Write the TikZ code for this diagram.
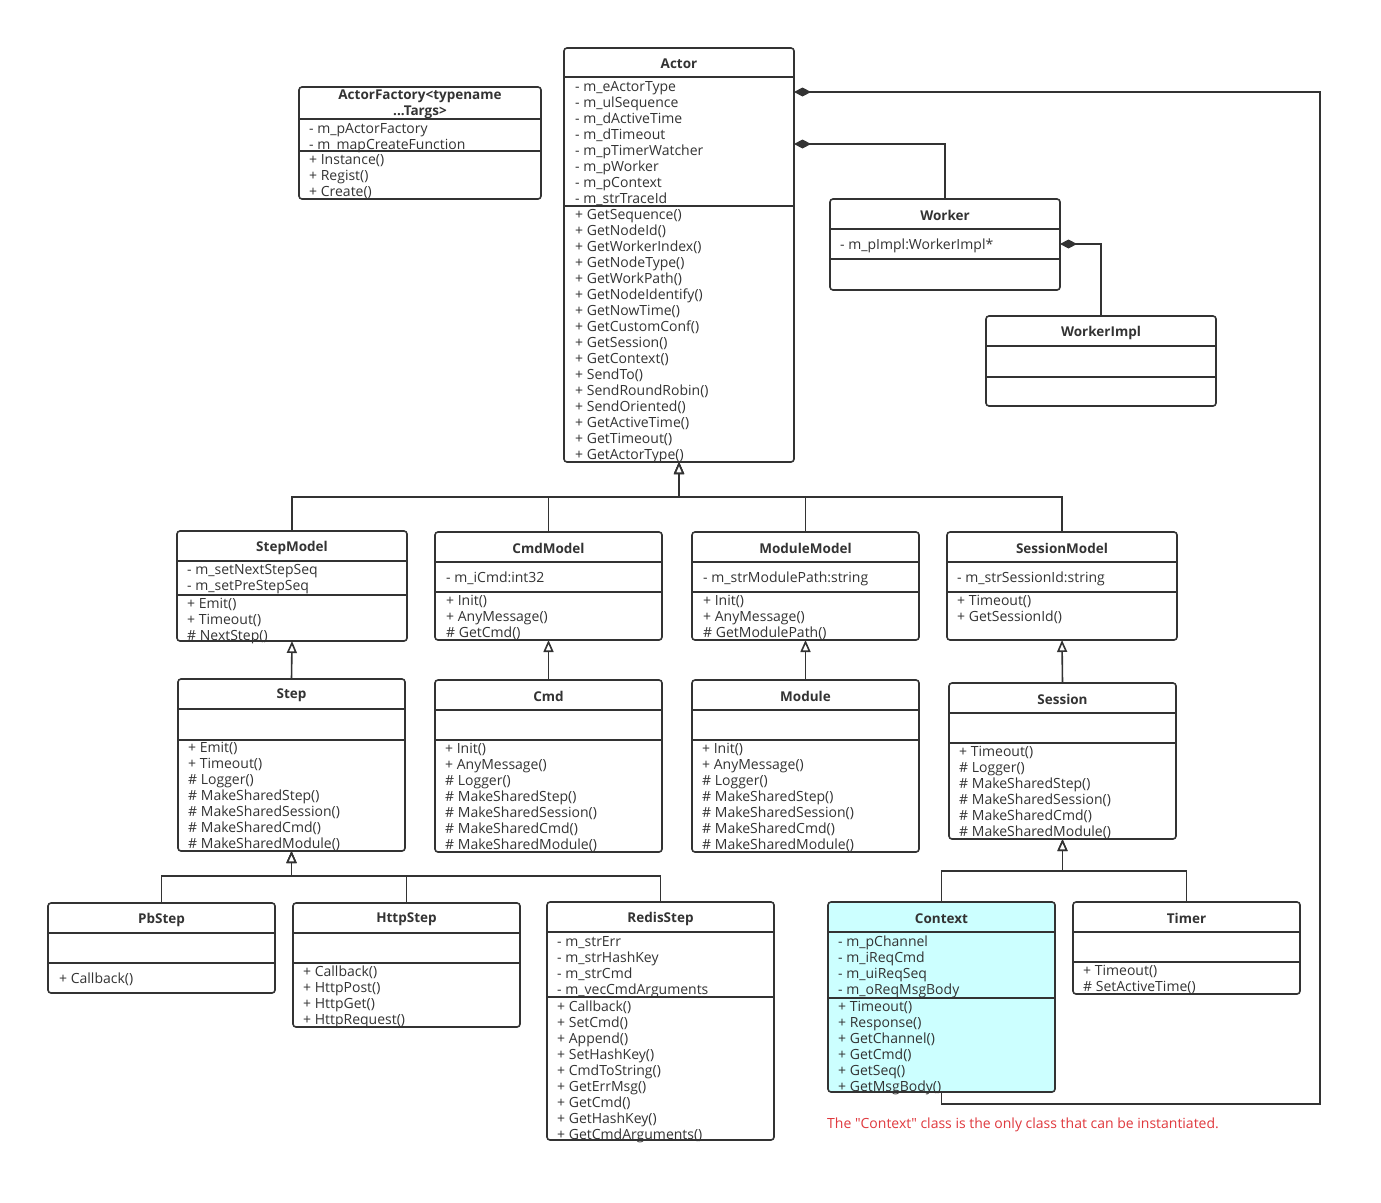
\documentclass[tikz,border=0pt]{standalone}
\usepackage{fontspec}
\setmainfont{Open Sans}
\usetikzlibrary{arrows.meta}

\definecolor{umlline}{HTML}{333333}
\definecolor{umltext}{HTML}{333333}
\definecolor{ctxfill}{HTML}{CCFFFF}
\definecolor{notered}{HTML}{E0393E}

% A class box: [fill]{name}{left}{top}{right}{bottom}{divider 1}{divider 2}{title}
\newcommand{\umlclass}[9][white]{%
  \node[classframe, fill=#1, anchor=north west,
        minimum width={(#5-#3)*1pt}, minimum height={(#6-#4)*1pt}]
    (#2) at (#3,#4) {};
  \node[classtitle] (#2-title) at ({(#3+#5)/2},{(#4+#7)/2}) {#9};
  \draw[divider] (#3,#7) -- (#5,#7) (#3,#8) -- (#5,#8);
}

% One line per member, 16px apart: {prefix}{x}{y of the first line}{lines}
\newcommand{\members}[4]{%
  \foreach \txt [count=\i] in {#4}
    \node[member] (#1\i) at (#2,{#3+16*(\i-1)}) {\txt};
}

\begin{document}
\begin{tikzpicture}[x=1pt, y=-1pt,
    classframe/.style={draw=umlline, line width=1.6pt, rounded corners=3pt,
                       inner sep=0pt, outer sep=0pt},
    classtitle/.style={font=\bfseries\fontsize{13.5}{16}\selectfont,
                       text=umltext, align=center, inner sep=0pt, yshift=-1.5pt},
    member/.style={anchor=west, inner sep=0pt, text=umltext,
                   font=\fontsize{14}{15}\selectfont,
                   text height=10pt, text depth=0pt},
    divider/.style={umlline, line width=1.6pt},
    genline/.style={umlline, line width=1.6pt,
                    -{Triangle[fill=white, length=12pt, width=10pt]}},
    compline/.style={umlline, line width=1.6pt,
                     -{Diamond[length=17pt, width=9pt]}},
    note/.style={anchor=west, inner sep=0pt, text=notered,
                 font=\fontsize{14}{15}\selectfont,
                 text height=10pt, text depth=0pt}]

  % Page with the margins of the original
  \fill[white] (0,0) rectangle (1381,1202);
  \useasboundingbox (0,0) rectangle (1381,1202);

  % Top row
  \umlclass{factory}{299}{87}{541}{199}{119}{151}{ActorFactory<typename\\...Targs>}
  \members{factory-a}{309}{128}{- m\_pActorFactory, - m\_mapCreateFunction}
  \members{factory-m}{309}{159}{+ Instance(), + Regist(), + Create()}

  \umlclass{actor}{564}{48}{794}{462}{77}{206}{Actor}
  \members{actor-a}{575}{86}{- m\_eActorType, - m\_ulSequence, - m\_dActiveTime,
    - m\_dTimeout, - m\_pTimerWatcher, - m\_pWorker, - m\_pContext, - m\_strTraceId}
  \members{actor-m}{575}{214}{+ GetSequence(), + GetNodeId(), + GetWorkerIndex(),
    + GetNodeType(), + GetWorkPath(), + GetNodeIdentify(), + GetNowTime(),
    + GetCustomConf(), + GetSession(), + GetContext(), + SendTo(),
    + SendRoundRobin(), + SendOriented(), + GetActiveTime(), + GetTimeout(),
    + GetActorType()}

  \umlclass{worker}{830}{199}{1060}{290}{229}{259}{Worker}
  \members{worker-a}{840}{244}{- m\_pImpl:WorkerImpl*}

  \umlclass{workerimpl}{986}{316}{1216}{406}{346}{377}{WorkerImpl}

  % The four models
  \umlclass{stepmodel}{177}{531}{407}{641}{561}{595}{StepModel}
  \members{stepmodel-a}{187}{569}{- m\_setNextStepSeq, - m\_setPreStepSeq}
  \members{stepmodel-m}{187}{603}{+ Emit(), + Timeout(), \# NextStep()}

  \umlclass{cmdmodel}{435}{532}{662}{640}{562}{592}{CmdModel}
  \members{cmdmodel-a}{446}{577}{- m\_iCmd:int32}
  \members{cmdmodel-m}{446}{600}{+ Init(), + AnyMessage(), \# GetCmd()}

  \umlclass{modulemodel}{692}{532}{919}{640}{562}{592}{ModuleModel}
  \members{modulemodel-a}{703}{577}{- m\_strModulePath:string}
  \members{modulemodel-m}{703}{600}{+ Init(), + AnyMessage(), \# GetModulePath()}

  \umlclass{sessionmodel}{947}{532}{1177}{640}{562}{592}{SessionModel}
  \members{sessionmodel-a}{957}{577}{- m\_strSessionId:string}
  \members{sessionmodel-m}{957}{600}{+ Timeout(), + GetSessionId()}

  % Their base classes
  \umlclass{step}{178}{679}{405}{851}{709}{740}{Step}
  \members{step-m}{188}{747}{+ Emit(), + Timeout(), \# Logger(), \# MakeSharedStep(),
    \# MakeSharedSession(), \# MakeSharedCmd(), \# MakeSharedModule()}

  \umlclass{cmd}{435}{680}{662}{852}{710}{740}{Cmd}
  \members{cmd-m}{445}{748}{+ Init(), + AnyMessage(), \# Logger(), \# MakeSharedStep(),
    \# MakeSharedSession(), \# MakeSharedCmd(), \# MakeSharedModule()}

  \umlclass{module}{692}{680}{919}{852}{710}{740}{Module}
  \members{module-m}{702}{748}{+ Init(), + AnyMessage(), \# Logger(), \# MakeSharedStep(),
    \# MakeSharedSession(), \# MakeSharedCmd(), \# MakeSharedModule()}

  \umlclass{session}{949}{683}{1176}{839}{713}{743}{Session}
  \members{session-m}{959}{751}{+ Timeout(), \# Logger(), \# MakeSharedStep(),
    \# MakeSharedSession(), \# MakeSharedCmd(), \# MakeSharedModule()}

  % Bottom row
  \umlclass{pbstep}{48}{903}{275}{993}{933}{963}{PbStep}
  \members{pbstep-m}{59}{978}{+ Callback()}

  \umlclass{httpstep}{293}{903}{520}{1027}{933}{963}{HttpStep}
  \members{httpstep-m}{303}{971}{+ Callback(), + HttpPost(), + HttpGet(), + HttpRequest()}

  \umlclass{redisstep}{547}{902}{774}{1140}{932}{997}{RedisStep}
  \members{redisstep-a}{557}{941}{- m\_strErr, - m\_strHashKey, - m\_strCmd,
    - m\_vecCmdArguments}
  \members{redisstep-m}{557}{1006}{+ Callback(), + SetCmd(), + Append(), + SetHashKey(),
    + CmdToString(), + GetErrMsg(), + GetCmd(), + GetHashKey(), + GetCmdArguments()}

  \umlclass[ctxfill]{context}{828}{902}{1055}{1092}{932}{998}{Context}
  \members{context-a}{838}{941}{- m\_pChannel, - m\_iReqCmd, - m\_uiReqSeq,
    - m\_oReqMsgBody}
  \members{context-m}{838}{1006}{+ Timeout(), + Response(), + GetChannel(), + GetCmd(),
    + GetSeq(), + GetMsgBody()}

  \umlclass{timer}{1073}{902}{1300}{994}{932}{962}{Timer}
  \members{timer-m}{1083}{970}{+ Timeout(), \# SetActiveTime()}

  \node[note] (note) at (827,1123)
    {The \textquotedbl Context\textquotedbl\ class is the only class that can be instantiated.};

  % Generalisation
  \foreach \child in {stepmodel, cmdmodel, modulemodel, sessionmodel}
    \draw[genline] (\child.north) -- (\child.north |- 0,497) -| (actor.south);
  \foreach \child/\parent in {step/stepmodel, cmd/cmdmodel, module/modulemodel,
                              session/sessionmodel}
    \draw[genline] (\child.north) -- (\parent.south);
  \foreach \child in {pbstep, httpstep, redisstep}
    \draw[genline] (\child.north) -- (\child.north |- 0,876) -| (step.south);
  \foreach \child in {context, timer}
    \draw[genline] (\child.north) -- (\child.north |- 0,871) -| (session.south);

  % Composition
  \coordinate (loop) at (1320,1104);
  \draw[compline] (worker.north) |- (actor.north east |- 0,144);
  \draw[compline] (workerimpl.north) |- (worker.north east |- 0,244);
  \draw[compline] (context.south) |- (loop) |- (actor.north east |- 0,92);
\end{tikzpicture}
\end{document}
